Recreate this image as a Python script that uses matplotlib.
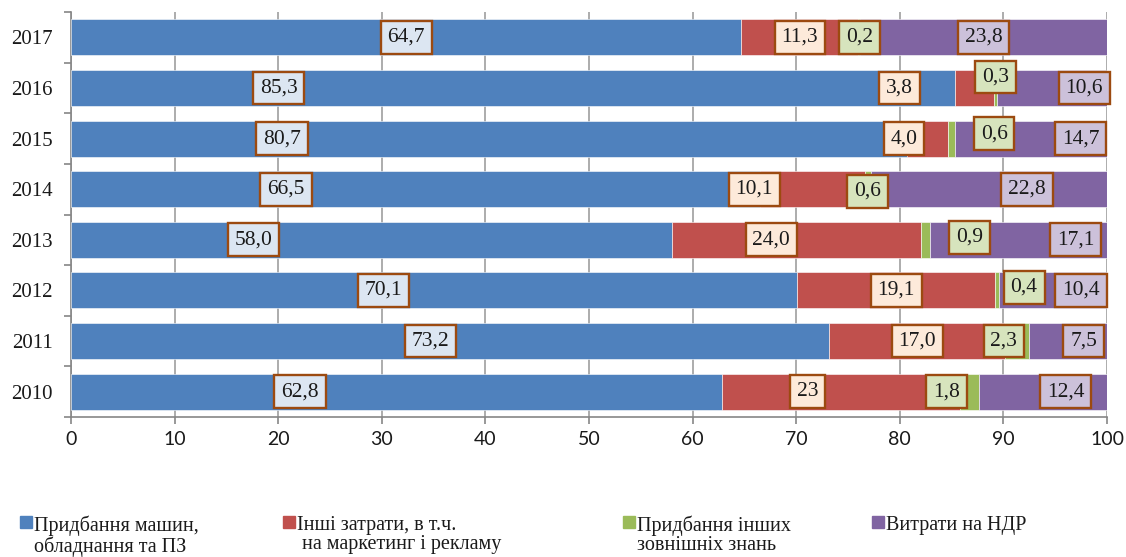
import numpy as np
import matplotlib.pyplot as plt
from matplotlib.patches import Rectangle

# ── DATA ──────────────────────────────────────────────────────────────────────
years = ["2017", "2016", "2015", "2014", "2013", "2012", "2011", "2010"]

machines  = [64.7, 85.3, 80.7, 66.5, 58.0, 70.1, 73.2, 62.8]
other     = [11.3, 3.8, 4.0, 10.1, 24.0, 19.1, 17.0, 23]
knowledge = [0.2, 0.3, 0.6, 0.6, 0.9, 0.4, 2.3, 1.8]
rnd       = [23.8, 10.6, 14.7, 22.8, 17.1, 10.4, 7.5, 12.4]

series_names = [
    "Придбання машин,\nобладнання та ПЗ",
    "Інші затрати, в т.ч.\n на маркетинг і рекламу",
    "Придбання інших\nзовнішніх знань",
    "Витрати на НДР",
]

# ── STYLE ─────────────────────────────────────────────────────────────────────
BAR_COLORS   = ["#4F81BD", "#C0504D", "#9BBB59", "#8064A2"]
LABEL_FILLS  = ["#DCE6F2", "#FDEADA", "#D7E4BD", "#CCC1DA"]
LABEL_EDGE   = "#9C4A10"
GRID_COLOR   = "#A6A6A6"
SERIF        = "Liberation Serif"

# label shift from segment centre (x in data units, y in pixels, up = +)
LABEL_DX = [
    [0, 0, 0, 0],
    [-22.6, -7.2, 0, 3.1],
    [-20.0, -2.3, 4.1, 4.8],
    [-12.5, -5.6, 0, 3.7],
    [-11.4, -2.4, 4.3, 5.5],
    [-4.9, 0, 2.6, 2.7],
    [-1.9, 0, -1.3, 1.5],
    [-9.3, -3.2, -2.2, 2.2],
]
LABEL_DY = [
    [0, 0, 0, 0],
    [0, 0, 11, 0],
    [0, 0, 5, 0],
    [0, 0, -2, 0],
    [0, 0, 2.5, 0],
    [0, 0, 3, 0],
    [0, 0, 0, 0],
    [0, 0, 0, 0],
]

def fmt(v):
    if isinstance(v, int):
        return str(v)
    return f"{v:.1f}".replace(".", ",")

# ── PLOT ──────────────────────────────────────────────────────────────────────
W, H = 1126, 557
fig = plt.figure(figsize=(W / 100, H / 100), dpi=100)
fig.patch.set_facecolor("white")
ax = fig.add_axes([71 / W, 1 - 417 / H, (1107 - 71) / W, (417 - 12) / H])

raw_series = [machines, other, knowledge, rnd]
data = np.array(raw_series, dtype=float)
ypos = np.arange(len(years))
left = np.zeros(len(years))

for i, vals in enumerate(data):
    ax.barh(ypos, vals, left=left, height=0.71, color=BAR_COLORS[i],
            edgecolor="white", linewidth=0.4, zorder=3)
    for j, v in enumerate(vals):
        cx = left[j] + v / 2 + LABEL_DX[j][i]
        ax.annotate(fmt(raw_series[i][j]), (cx, ypos[j]),
                    xytext=(0, LABEL_DY[j][i] * 0.72),
                    textcoords="offset points", ha="center", va="center",
                    fontsize=15.5, family=SERIF, color="#1a1a1a", zorder=5,
                    bbox=dict(boxstyle="square,pad=0.32", fc=LABEL_FILLS[i],
                              ec=LABEL_EDGE, lw=1.7))
    left += vals

ax.set_xlim(0, 100)
ax.set_ylim(len(years) - 0.5, -0.5)
ax.set_xticks(np.arange(0, 101, 10))
ax.set_yticks(ypos)
ax.set_yticklabels(years, family=SERIF, fontsize=15, color="#1a1a1a")
ax.set_yticks(np.arange(-0.5, len(years)), minor=True)
ax.tick_params(axis="y", which="major", length=0, pad=13)
ax.tick_params(axis="y", which="minor", length=5, color="#868686", width=1.2)
ax.tick_params(axis="x", length=5, color="#868686", width=1.2, pad=5,
               labelsize=14, labelcolor="#1a1a1a")
for lab in ax.get_xticklabels():
    lab.set_family("Lato")

ax.grid(True, axis="x", color=GRID_COLOR, linewidth=1.3, zorder=0)
ax.set_axisbelow(True)
for side in ("top", "right"):
    ax.spines[side].set_visible(False)
for side in ("left", "bottom"):
    ax.spines[side].set_color("#868686")
    ax.spines[side].set_linewidth(1.2)

# ── LEGEND ────────────────────────────────────────────────────────────────────
sq_x = [20, 283, 623, 872]
for i, name in enumerate(series_names):
    fig.add_artist(Rectangle((sq_x[i] / W, 1 - 528 / H), 12 / W, 12 / H,
                             transform=fig.transFigure, color=BAR_COLORS[i]))
    fig.text((sq_x[i] + 14) / W, 1 - 516 / H, name, ha="left", va="top",
             family=SERIF, fontsize=14.5, color="#1a1a1a", linespacing=0.98)

fig.savefig("out.png", dpi=100)
